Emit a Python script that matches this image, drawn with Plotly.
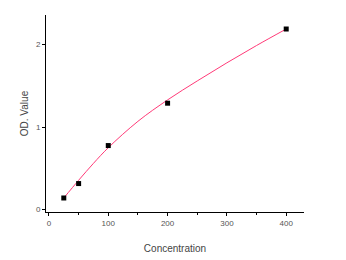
import plotly.graph_objects as go

conc = [25, 50, 100, 200, 400]
od = [0.14, 0.315, 0.776, 1.29, 2.19]

fit_x = [25, 50, 75, 100, 150, 200, 250, 300, 350, 400]
fit_y = [0.14, 0.355, 0.56, 0.75, 1.07, 1.33, 1.56, 1.78, 1.99, 2.19]

fig = go.Figure()
fig.add_trace(go.Scatter(x=fit_x, y=fit_y, mode="lines",
                         line=dict(color="#ff3a78", width=1, shape="spline"),
                         hoverinfo="skip", showlegend=False))
fig.add_trace(go.Scatter(x=conc, y=od, mode="markers",
                         marker=dict(symbol="square", size=5, color="black"),
                         showlegend=False))

font = dict(family="Liberation Sans, Arial, sans-serif", color="#555555", size=8)
fig.update_layout(
    width=346, height=260,
    margin=dict(l=46, r=42, t=15, b=48, autoexpand=False),
    paper_bgcolor="white", plot_bgcolor="white",
    font=font,
    xaxis=dict(range=[-5, 430], tickvals=[0, 100, 200, 300, 400],
               showline=True, linecolor="black", linewidth=1,
               ticks="outside", ticklen=3, tickcolor="black",
               minor=dict(tickvals=[50, 150, 250, 350], ticks="outside", ticklen=2, tickcolor="black"),
               showgrid=False, zeroline=False, automargin=False,
               title=dict(text="Concentration", font=dict(size=10, color="#444444"), standoff=18)),
    yaxis=dict(range=[-0.03, 2.36], tickvals=[0, 1, 2],
               showline=True, linecolor="black", linewidth=1,
               ticks="outside", ticklen=3, tickcolor="black",
               showgrid=False, zeroline=False, automargin=False,
               title=dict(text="OD. Value", font=dict(size=10, color="#444444"), standoff=5)),
)
fig.write_html("out.html")
